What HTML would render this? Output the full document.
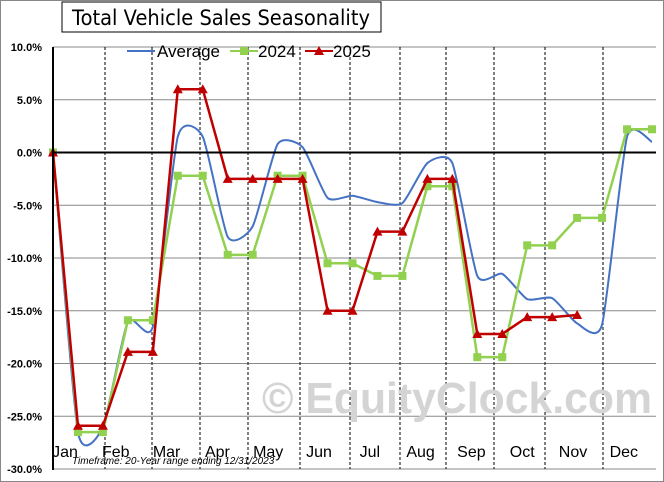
<!DOCTYPE html>
<html><head><meta charset="utf-8"><style>
body{margin:0;background:#fff;font-family:"Liberation Sans",sans-serif}
svg{display:block}
</style></head><body>
<svg id="chart" width="664" height="482">
<rect x="0.5" y="0.5" width="663" height="481" fill="#fff" stroke="#888"/>
<g id="grid"></g>
<text x="652" y="413" font-size="44" font-weight="bold" fill="#d4d4d4" text-anchor="end" textLength="390" lengthAdjust="spacingAndGlyphs">© EquityClock.com</text>
<g id="series"></g>
<g id="axes"></g>
<rect x="62" y="2" width="319" height="30" fill="#fff" stroke="#000"/>
<text x="72" y="25" font-size="21" textLength="298" lengthAdjust="spacingAndGlyphs" font-family="DejaVu Sans, sans-serif">Total Vehicle Sales Seasonality</text>
<g>
<line x1="127" y1="51" x2="155" y2="51" stroke="#4472C4" stroke-width="2"/>
<text x="157" y="57" font-size="17">Average</text>
<line x1="230" y1="51" x2="258" y2="51" stroke="#92D050" stroke-width="2"/>
<rect x="240" y="47" width="8" height="8" fill="#92D050"/>
<text x="258" y="57" font-size="17">2024</text>
<line x1="305" y1="51" x2="333" y2="51" stroke="#C00000" stroke-width="2"/>
<polygon points="319,46 324,55 314,55" fill="#C00000"/>
<text x="333" y="57" font-size="17">2025</text>
</g>
<text x="72" y="464" font-size="10" font-style="italic">Timeframe: 20-Year range ending 12/31/2023</text>
</svg>
<script>
const months=["Jan","Feb","Mar","Apr","May","Jun","Jul","Aug","Sep","Oct","Nov","Dec"];
const yTicks=[10,5,0,-5,-10,-15,-20,-25,-30];
const avgValues=[0,-26.5,-26,-16,-16.5,1.5,1.5,-8,-7,0.8,0.5,-4.3,-4.1,-4.7,-4.8,-1,-1,-11.7,-11.5,-13.9,-13.8,-16.2,-16.3,1.5,1.0];
const v2024=[0,-26.5,-26.5,-15.9,-15.9,-2.2,-2.2,-9.7,-9.7,-2.2,-2.2,-10.5,-10.5,-11.7,-11.7,-3.2,-3.2,-19.4,-19.4,-8.8,-8.8,-6.2,-6.2,2.2,2.2];
const v2025=[0,-25.9,-25.9,-18.9,-18.9,6,6,-2.5,-2.5,-2.5,-2.5,-15,-15,-7.5,-7.5,-2.5,-2.5,-17.2,-17.2,-15.6,-15.6,-15.4];
const NS="http://www.w3.org/2000/svg";
const X0=53,X1=652,Y10=47,Y30=469;
const xs=i=>X0+i*(X1-X0)/24;
const ys=v=>Y10+(10-v)*(Y30-Y10)/40;
function mk(t,a,p){const e=document.createElementNS(NS,t);for(const k in a)e.setAttribute(k,a[k]);p.appendChild(e);return e;}
const grid=document.getElementById('grid'),axes=document.getElementById('axes'),ser=document.getElementById('series');
yTicks.forEach(v=>{
 if(v!==0){const l=mk('line',{x1:X0,x2:X1+4,y1:ys(v),y2:ys(v),stroke:'#888','stroke-width':1},grid);
 
 }
 const t=mk('text',{x:X0-11,y:ys(v)+4,'font-size':11,'font-weight':'bold','text-anchor':'end'},axes);
 t.textContent=v.toFixed(1)+'%';
 
 
});
const vlines=[105,152,200,248,300,350,400,446,494,545,603];
vlines.forEach(x=>{const l=mk('line',{x1:x,x2:x,y1:Y10,y2:Y30,stroke:'#000','stroke-dasharray':'3,2','stroke-width':1},grid);
 
 });
months.forEach((m,i)=>{const t=mk('text',{x:65+i*50.8,y:457,'font-size':16,'text-anchor':'middle'},axes);t.textContent=m;
 
 });
let a=mk('line',{x1:X0,x2:X0,y1:Y10,y2:Y30+1,stroke:'#000','stroke-width':2},axes);

a=mk('line',{x1:X0,x2:X1+4,y1:ys(0),y2:ys(0),stroke:'#000','stroke-width':2},axes);

// average smooth (reduced tension)
const P=avgValues.map((v,i)=>[xs(i),ys(v)]);
const k=10;
let d='M'+P[0][0]+','+P[0][1];
for(let i=0;i<P.length-1;i++){const p0=P[Math.max(0,i-1)],p1=P[i],p2=P[i+1],p3=P[Math.min(P.length-1,i+2)];
 d+=' C'+(p1[0]+(p2[0]-p0[0])/k)+','+(p1[1]+(p2[1]-p0[1])/k)+' '+(p2[0]-(p3[0]-p1[0])/k)+','+(p2[1]-(p3[1]-p1[1])/k)+' '+p2[0]+','+p2[1];}
const avg=mk('path',{d:d,fill:'none',stroke:'#4472C4','stroke-width':2},ser);

function poly(vals,col,name){const l=mk('polyline',{points:vals.map((v,i)=>xs(i)+','+ys(v)).join(' '),fill:'none',stroke:col,'stroke-width':2.5},ser);
 }
poly(v2024,'#92D050','series-2024');
v2024.forEach((v,i)=>{const r=mk('rect',{x:xs(i)-4,y:ys(v)-4,width:8,height:8,fill:'#92D050'},ser);
 });
poly(v2025,'#C00000','series-2025');
v2025.forEach((v,i)=>{const x=xs(i),y=ys(v);const p=mk('polygon',{points:`${x},${y-5} ${x+5},${y+4} ${x-5},${y+4}`,fill:'#C00000'},ser);
 });
</script>
</body></html>
